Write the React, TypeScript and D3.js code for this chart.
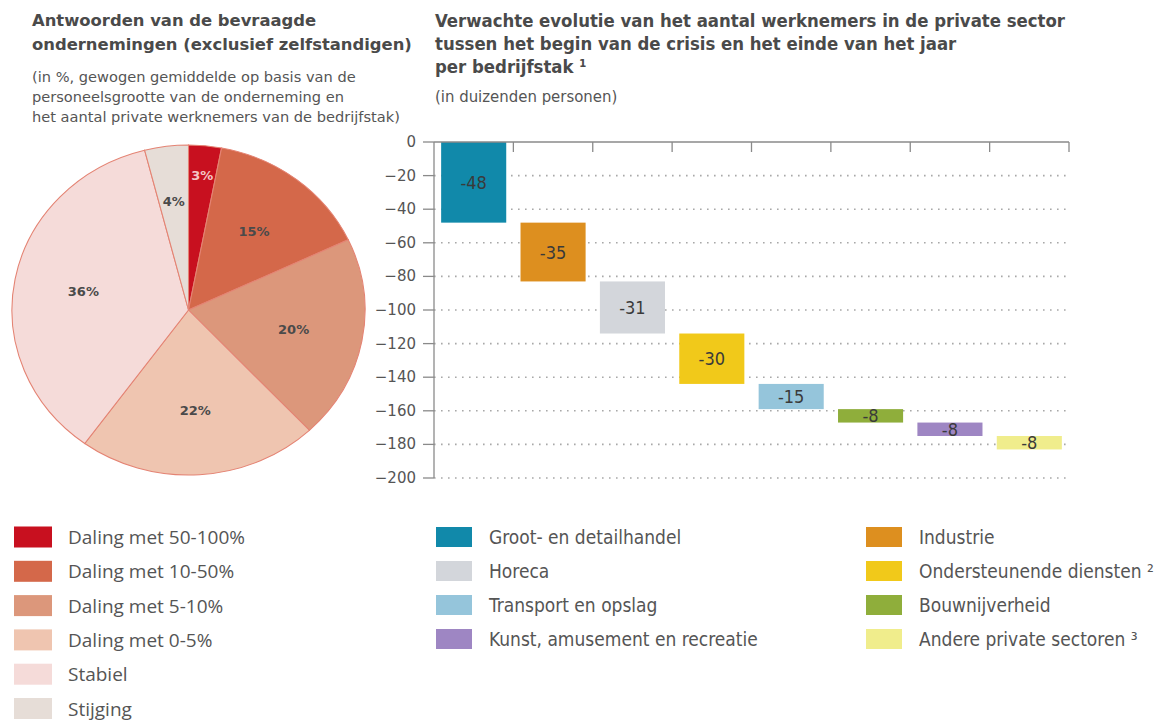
import React from "react";
import * as d3 from "d3";

const pieCategories = [
  "Daling met 50-100%",
  "Daling met 10-50%",
  "Daling met 5-10%",
  "Daling met 0-5%",
  "Stabiel",
  "Stijging",
];
const pieValues = [3, 15, 20, 22, 36, 4];
const pieColors = ["#c8101f", "#d4684a", "#dc977b", "#efc5b0", "#f5dbd9", "#e6ddd7"];

const sectors = [
  "Groot- en detailhandel",
  "Industrie",
  "Horeca",
  "Ondersteunende diensten",
  "Transport en opslag",
  "Bouwnijverheid",
  "Kunst, amusement en recreatie",
  "Andere private sectoren",
];
const sectorSup = ["", "", "", "²", "", "", "", "³"];
const sectorValues = [-48, -35, -31, -30, -15, -8, -8, -8];
const sectorColors = ["#1189aa", "#dd8f1f", "#d3d6db", "#f1c91a", "#95c5db", "#8fae3b", "#9e86c3", "#f0ed8c"];
const yTicks = [0, -20, -40, -60, -80, -100, -120, -140, -160, -180, -200];

const FONT = "'Open Sans', 'Noto Sans', sans-serif";
const WIDE = "'DejaVu Sans', sans-serif";
const COND = "'DejaVu Sans Condensed', 'DejaVu Sans', sans-serif";
const TXT = "#555";

export default function App() {
  // Pie
  const cx = 188.5, cy = 310, R = 165, sx = 1.07;
  const pie = d3.pie<number>().sort(null).value((d) => d)(pieValues);
  const arc = d3.arc<d3.PieArcDatum<number>>().innerRadius(0).outerRadius(R);

  // Bars
  const x = d3.scaleBand<number>().domain(d3.range(sectors.length)).range([434, 1069]).paddingInner(0.18).paddingOuter(0.09);
  const y = d3.scaleLinear().domain([0, -200]).range([142, 478]);
  const ends = d3.cumsum(sectorValues);
  const starts = ends.map((e, i) => e - sectorValues[i]);
  const boundaries = d3.range(sectors.length).map((i) => x(i)! - (x.step() - x.bandwidth()) / 2).concat([1069]);

  const col1 = [0, 2, 4, 6];
  const col2 = [1, 3, 5, 7];

  return (
    <svg width={1155} height={720} style={{ position: "absolute", left: 0, top: 0, background: "#fff" }} fontFamily={FONT}>
      {/* Left titles */}
      <g fill="#4a4a4a" fontWeight={700} fontSize={16.4} fontFamily={WIDE}>
        <text x={32} y={26}>Antwoorden van de bevraagde</text>
        <text x={32} y={50}>ondernemingen (exclusief zelfstandigen)</text>
      </g>
      <g fill={TXT} fontSize={14.6} fontFamily={WIDE}>
        <text x={32} y={82}>(in %, gewogen gemiddelde op basis van de</text>
        <text x={32} y={102}>personeelsgrootte van de onderneming en</text>
        <text x={32} y={122}>het aantal private werknemers van de bedrijfstak)</text>
      </g>

      {/* Right titles */}
      <g fill="#4a4a4a" fontWeight={700} fontSize={18.4} fontFamily={COND} fontStretch="condensed">
        <text x={435} y={27}>Verwachte evolutie van het aantal werknemers in de private sector</text>
        <text x={435} y={50}>tussen het begin van de crisis en het einde van het jaar</text>
        <text x={435} y={73}>per bedrijfstak ¹</text>
      </g>
      <text x={435} y={102} fill={TXT} fontSize={16.6} fontFamily={COND} fontStretch="condensed">(in duizenden personen)</text>

      {/* Pie */}
      <g transform={`translate(${cx},${cy}) scale(${sx},1)`}>
        {pie.map((p, i) => (
          <path key={i} d={arc(p)!} fill={pieColors[i]} stroke="#e48373" strokeWidth={1} />
        ))}
      </g>
      <g fontSize={13} fontWeight={700} textAnchor="middle" fontFamily={WIDE}>
        {pie.map((p, i) => {
          const a = (p.startAngle + p.endAngle) / 2;
          const v = pieValues[i];
          const lr = v <= 3 ? 136 : v <= 4 ? 110 : 100;
          return (
            <text key={i} x={cx + Math.sin(a) * lr * sx} y={cy - Math.cos(a) * lr + 5} fill={i === 0 ? "#f4c4c4" : "#4a4a4a"}>
              {v}%
            </text>
          );
        })}
      </g>

      {/* Grid */}
      <g>
        {yTicks.filter((t) => t !== 0).map((t) => (
          <line key={t} x1={434} x2={1069} y1={y(t)} y2={y(t)} stroke="#a8a8a8" strokeWidth={1.6} strokeDasharray="1.6,5.4" />
        ))}
      </g>

      {/* Bars */}
      <g>
        {sectorValues.map((v, i) => {
          const y0 = y(starts[i]);
          const y1 = y(ends[i]);
          return (
            <g key={i}>
              <rect x={x(i)} y={y0} width={x.bandwidth()} height={y1 - y0} fill={sectorColors[i]} />
              <text x={x(i)! + x.bandwidth() / 2} y={(y0 + y1) / 2 + 6.5} textAnchor="middle" fontSize={18} fill="#3a3a3a" fontFamily={COND} fontStretch="condensed">
                {v}
              </text>
            </g>
          );
        })}
      </g>

      {/* Axes */}
      <g stroke="#8a8a8a" strokeWidth={1.3}>
        <line x1={434} x2={434} y1={142} y2={478} />
        <line x1={434} x2={1069} y1={142} y2={142} />
        {boundaries.slice(1).map((b, i) => (
          <line key={i} x1={b} x2={b} y1={142} y2={152} />
        ))}
        {yTicks.map((t) => (
          <line key={t} x1={423} x2={434} y1={y(t)} y2={y(t)} />
        ))}
      </g>
      <g fontSize={15} fill={TXT} textAnchor="end" fontFamily={WIDE}>
        {yTicks.map((t) => (
          <text key={t} x={416} y={y(t) + 5}>
            {t === 0 ? "0" : "\u2212" + Math.abs(t)}
          </text>
        ))}
      </g>

      {/* Left legend */}
      <g fontSize={19} fill={TXT}>
        {pieCategories.map((c, i) => (
          <g key={i} transform={`translate(0,${537 + i * 34.3})`}>
            <rect x={14} y={-10.5} width={38} height={21} fill={pieColors[i]} />
            <text x={68} y={7}>{c}</text>
          </g>
        ))}
      </g>

      {/* Right legend */}
      <g fontSize={19} fill={TXT} fontFamily={COND} fontStretch="condensed">
        {[col1, col2].map((col, ci) =>
          col.map((si, ri) => (
            <g key={si} transform={`translate(${ci === 0 ? 436 : 866},${537 + ri * 34})`}>
              <rect x={0} y={-10} width={36} height={20} fill={sectorColors[si]} />
              <text x={53} y={7}>
                {sectors[si]}
                {sectorSup[si] ? " " + sectorSup[si] : ""}
              </text>
            </g>
          ))
        )}
      </g>
    </svg>
  );
}
